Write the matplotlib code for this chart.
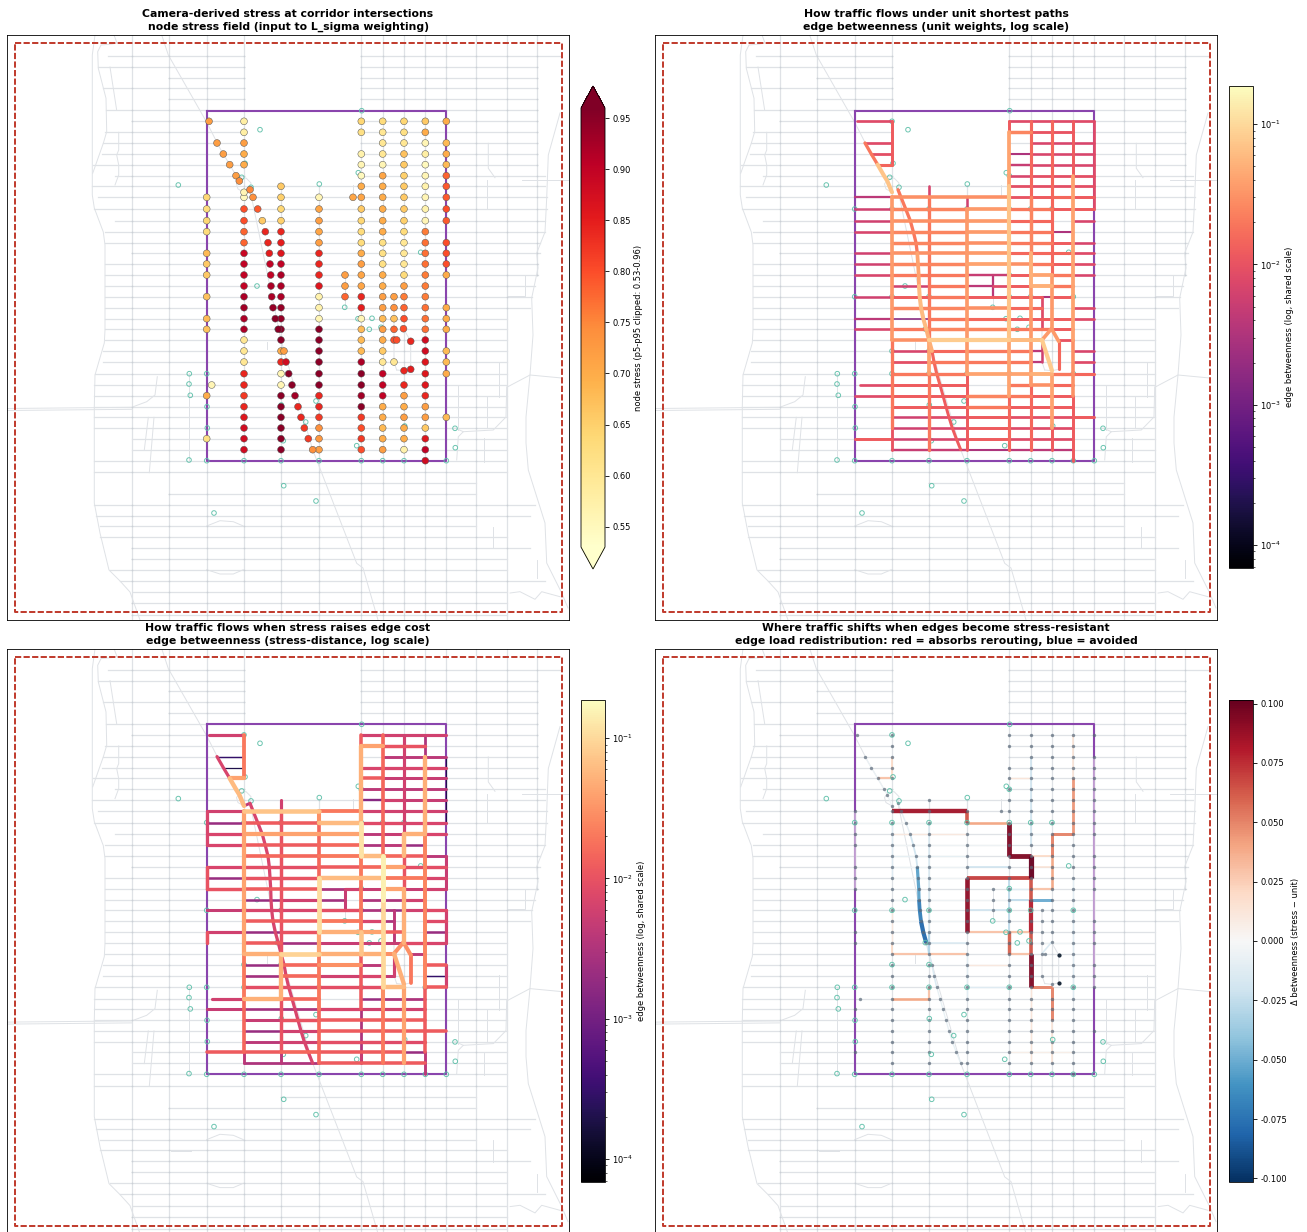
"""
Four-panel corridor map: node stress, unit betweenness, stress betweenness, delta.
Everything is positioned in reference pixel coords of the first panel.
"""
import numpy as np
import matplotlib
matplotlib.use("Agg")
import matplotlib.pyplot as plt
from matplotlib.cm import ScalarMappable
from matplotlib.colors import LogNorm, Normalize

_ = np.nan

# ── Corridor grid ───────────────────────────────────────────────────────────
COL_X = [206.7, 244, 281, 319, 361.3, 382.7, 404, 425.3, 446.3, 345, 394]
ROW_Y = [121.3, 132.3, 143, 154, 164.7, 175.7, 186.3, 197.3, 209, 220.7, 231.7,
         242.7, 253.3, 264, 275, 286, 296.7, 307.7, 318.7, 329.3, 340, 351,
         362, 373.7, 385, 395.7, 406.7, 417.3, 428, 438.7, 449.7, 460.7]
DIAG_X = [209, 217, 223.3, 229.7, 236, 239.3, 244, 250, 253, 257.7, 262.3, 265.3,
          268, 269.3, 270, 270.7, 271, 271.7, 273, 275.3, 278.3, 281, 284, 286,
          288.7, 292, 295, 298, 301, 304.3, 308.3, 312.7]
DIAG_Y = [121.3, 143, 154, 164.7, 175.7, 181, 192.3, 189.7, 197.3, 209, 220.7, 231.7,
          242.7, 253.3, 264, 275, 286, 296.7, 307.7, 318.7, 329.3, 340, 351, 362,
          373.7, 385, 395.7, 406.7, 417.3, 428, 438.7, 449.7]
LOOP_X = [394, 403.5, 410.7, 410.7, 404, 396.7, 394]
LOOP_Y = [340, 328.7, 341.3, 369.3, 370.7, 370, 362]

# ── Background streets: (y, x start, x end) ─────────────────────────────────
BG_ROWS = [(56.3, 108, 560), (67, 98, 537), (77.7, 169, 537), (88.3, 103, 537),
           (99.3, 169, 537), (110.3, 106, 537), (121.3, 131.7, 537), (132.3, 105, 537),
           (143, 103, 537), (154, 102, 537), (164.7, 93, 537), (175.7, 115, 545),
           (186.3, 92, 545), (197.3, 98, 547), (209, 94, 547), (220.7, 115, 545),
           (231.7, 105, 545), (242.7, 105, 540), (253.3, 131.7, 540), (264, 105, 538),
           (275, 105, 538), (286, 105, 535), (296.7, 105, 532), (307.7, 105, 530),
           (318.7, 105, 507), (329.3, 105, 507), (340, 105, 507), (351, 103, 507),
           (362, 103, 507), (373.7, 95, 507), (385, 94, 507), (395.7, 94, 507),
           (406.7, 94, 507), (417.3, 94, 507), (428, 94, 507), (438.7, 132, 507),
           (449.7, 132, 507), (460.7, 94, 507), (472.3, 94, 507), (483.3, 281, 476),
           (494.3, 169, 476), (505, 94, 535), (515.7, 96, 530), (526, 100, 476),
           (536.7, 100, 507), (547.7, 131.7, 530), (558.7, 131.7, 507), (569.7, 110, 507),
           (580.7, 120, 545), (592.3, 133, 507), (603.3, 131.7, 507), (615, 131.7, 507)]
BG_COLS = [(131.7, 35, 620), (169.3, 35, 620), (206.7, 35, 620), (244, 35, 620),
           (281, 186, 620), (319, 186, 620), (361.3, 35, 620), (382.7, 35, 620),
           (404, 35, 620), (425.3, 35, 620), (446.3, 35, 620), (476.3, 35, 620),
           (507.3, 35, 620), (537, 35, 275)]
BG_CURVES = [
    [(95, 35), (92.3, 55), (92.3, 195), (94.3, 208), (103.3, 232), (105, 245), (105, 330),
     (104.3, 343), (95, 375), (94.3, 407), (94.3, 503), (100, 533), (109, 570), (120, 581),
     (130, 592), (140, 620)],
    [(114, 35), (117, 43), (112, 44), (101, 45), (97.7, 51.7), (98.3, 68.3), (106, 98.3),
     (106.7, 131.7), (103.3, 143.3), (92.7, 173.3)],
    [(110, 67), (116.7, 110.3)],
    [(118.7, 132.3), (118.7, 150), (116.7, 155), (118.7, 165), (118.7, 175), (115, 185)],
    [(161.7, 35), (168.3, 55), (206.7, 122.3), (220, 148.3), (239.3, 181)],
    [(250, 189.7), (281, 340), (312.7, 449.7), (356.7, 563.3), (363, 568), (378, 620)],
    [(7, 408.5), (131.7, 407.3), (146.7, 401.7), (155, 395), (157.3, 376.7)],
    [(7, 410.5), (131.7, 409.3)],
    [(148.3, 417.3), (144.3, 450)], [(154, 417.3), (149.3, 472.7)],
    [(189.3, 373), (189.3, 460)], [(171, 537), (190.7, 537)],
    [(560, 113), (548.3, 155), (546.7, 198), (545, 232), (536.7, 253), (538, 268),
     (531.7, 298), (533, 335), (530, 375), (526, 417), (526, 443), (528.3, 470), (545, 523),
     (546.7, 563), (561.7, 593), (568, 608)],
    [(507.3, 387), (530, 375), (561.7, 378)],
    [(506.7, 387), (506, 417), (493.3, 430), (463.3, 431.7), (458.3, 436.7), (456.7, 460)],
    [(463.3, 431.7), (455, 428)],
    [(457.7, 385), (457.7, 430)], [(487.3, 395.7), (487.3, 428)],
    [(499.3, 361.7), (499.3, 396.7)], [(484.3, 438), (484.3, 461.7)],
    [(488.3, 143.3), (488.3, 168.3), (495, 177.7)], [(521.7, 180), (570, 180)],
    [(486.7, 180), (486.7, 209)], [(525, 275), (525, 295.7), (507.3, 295.7)],
    [(525, 275), (538, 275)],
    [(493.3, 526.7), (493.3, 548.3)], [(536.7, 560), (536.7, 578)],
    [(510, 593), (520, 591.7), (535, 599.3), (541.7, 591.7), (560, 596.7)],
    [(206.7, 526), (220, 520.7), (233.3, 521.7), (243.3, 526)],
    [(206.7, 569.7), (220, 574), (233.3, 574), (243.3, 569.7)],
    [(353, 185), (353, 197)], [(345, 275), (345, 307)], [(394, 296.7), (394, 362), (396.7, 370)],
    [(266.7, 341.7), (266.7, 349.3)],
    [(403.5, 328.7), (410.7, 341.3), (410.7, 369.3), (404, 370.7), (396.7, 370)],
    [(244, 192.3), (238, 189), (236.5, 184), (240, 179), (246, 178), (251, 183), (250, 189.7)],
]

# ── Cameras (hollow teal markers) ───────────────────────────────────────────
CAM_X = [361.7, 260, 245, 241.7, 178.3, 251, 319.3, 358.3, 420.7, 257, 344.7, 358, 372,
         369.3, 381, 277.3, 189.3, 206.7, 189, 190.3, 207, 316, 281.3, 305.7, 207.3, 404.7,
         455, 283.3, 356.7, 455.3, 189, 206.7, 244, 281, 319, 361.3, 382.7, 404, 425.3,
         446.3, 283.7, 316, 214, 244, 206.7, 244, 281, 319, 361.3, 382.7, 404, 206.7, 244,
         281, 361.3, 382.7, 425.3, 244, 281, 319, 361.3, 425.3, 361.3, 281, 244, 361.3]
CAM_Y = [110.7, 129.7, 163.3, 177.3, 185, 187.3, 184, 172.7, 252.3, 286, 307.3, 318.7,
         318.3, 329.3, 327.3, 329, 373.7, 373.7, 384, 395.3, 406.7, 401, 405, 422, 428, 426,
         428.3, 440.7, 445.7, 447.7, 460, 460.7, 460.7, 460.7, 460.7, 460.7, 460.7, 460.7,
         460.7, 460.7, 485.7, 501, 513, 121.3, 209, 209, 209, 209, 209, 209, 209, 296.7,
         296.7, 296.7, 296.7, 296.7, 296.7, 373.7, 373.7, 373.7, 373.7, 373.7, 275, 351,
         351, 175.7]

# ── Panel 1: node stress, one row per ROW_Y, columns COL_X[0:9] ─────────────
STRESS = [
    [_, .58, _, _, .64, .63, .64, .66, .70],
    [_, .58, _, _, .62, .60, .62, .70, _],
    [_, .72, _, _, _, .60, .60, .56, .68],
    [_, .70, _, _, .57, .60, .67, .58, .70],
    [_, .70, _, _, .56, .56, .66, .55, .68],
    [_, _, _, _, .55, .71, .65, .56, .78],
    [_, _, .66, _, .70, .70, .66, .57, .79],
    [.64, .55, .65, .56, .71, .70, .66, .56, .79],
    [.63, .80, .64, .71, .66, .70, .66, .57, .80],
    [.64, .80, .65, .72, .64, .70, .65, .56, .79],
    [.63, .78, .84, .71, .63, .70, .63, .76, _],
    [_, .78, .85, .72, .63, .62, .60, .77, .80],
    [.68, .89, .86, .84, .70, .62, .60, .77, .80],
    [.66, .90, .90, .84, .72, .62, .60, .77, .80],
    [.66, .90, .92, .84, .71, .70, .63, .76, .70],
    [_, .90, .92, .86, .71, .70, .72, .76, _],
    [.67, .92, .92, .57, .84, .72, .76, .76, _],
    [_, .93, .94, .57, .85, .72, .78, .77, .70],
    [.68, .92, .94, .56, .56, .68, .80, .77, .70],
    [.67, .92, .95, .95, .68, .72, _, .77, .70],
    [_, .60, .95, .95, .68, .70, _, .88, _],
    [_, .60, .70, .95, .68, .66, _, .88, .68],
    [_, .60, .84, .95, .92, .60, _, .86, .68],
    [_, .84, .56, .95, .95, .90, _, .86, .70],
    [_, .84, .56, .95, .95, .90, .84, .86, _],
    [.70, .82, .95, .84, .93, .90, .72, .84, _],
    [_, .84, .95, .84, .95, .70, .70, .72, _],
    [_, .86, .95, .82, .82, .70, .72, .72, .68],
    [_, .88, .95, .74, .80, .68, .70, .66, _],
    [.62, .88, .95, .73, .82, .70, .70, .86, _],
    [_, .88, .95, .72, .80, .72, .57, .90, _],
    [_, _, _, _, _, _, _, .88, _],
]
STRESS_DIAG = [.72, .72, .72, .72, .72, .74, .56, .75, .74, .79, .66, .84, .84, .85, .90, .90,
               .92, .92, .94, .95, .95, _, .72, .88, .95, .95, .93, .84, .84, .82, .82, .74]
EXTRA_X = [353, 345, 345, 345, 394, 394, 394, 394, 403.5, 394, 396.7, 410.7, 394, 404, 410.7, 211.7]
EXTRA_Y = [197.3, 275, 286, 296.7, 296.7, 307.7, 318.7, 329.3, 328.7, 340, 340, 341.3, 362,
           370.7, 369.3, 385]
EXTRA_S = [.71, .72, .72, .78, .72, .74, .67, .78, .80, .80, .80, .84, .60, .84, .85, .56]

# ── Edge tables: H = (row, col or x, col or x, value), V = (col, row, row, value),
#    DIAG = (first index, last index, value), LOOP = (loop index, loop index, value)
P2_H = [(0, 209.0, 1, .008), (0, 4, 8, .008),
        (1, 4, 5, .025), (1, 5, 7, .010),
        (2, 217.0, 1, .008), (2, 5, 8, .007),
        (3, 223.3, 1, .009), (3, 4, 5, .003), (3, 5, 8, .007),
        (4, 229.7, 1, .014), (4, 4, 5, .005), (4, 5, 8, .007),
        (5, 4, 5, .007), (5, 5, 8, .009),
        (6, 4, 8, .009),
        (7, 0, 1, .004), (7, 1, 4, .030), (7, 4, 5, .010), (7, 5, 6, .012), (7, 6, 7, .015), (7, 7, 8, .012),
        (8, 0, 1, .006), (8, 1, 3, .025), (8, 3, 4, .035), (8, 4, 6, .020), (8, 6, 8, .012),
        (9, 0, 1, .006), (9, 1, 3, .030), (9, 3, 4, .035), (9, 4, 6, .015), (9, 7, 8, .007),
        (10, 0, 1, .007), (10, 1, 3, .025), (10, 3, 4, .035), (10, 4, 6, .020), (10, 6, 7, .003),
        (11, 1, 3, .025), (11, 3, 4, .030), (11, 4, 6, .020), (11, 6, 7, .012), (11, 7, 8, .007),
        (12, 0, 1, .006), (12, 1, 3, .030), (12, 3, 4, .035), (12, 4, 6, .015), (12, 6, 7, .014), (12, 7, 8, .008),
        (13, 0, 1, .006), (13, 1, 3, .025), (13, 3, 4, .040), (13, 4, 5, .030), (13, 5, 6, .020), (13, 6, 7, .012), (13, 7, 8, .008),
        (14, 0, 1, .007), (14, 1, 3, .020), (14, 3, 4, .005), (14, 4, 5, .012), (14, 5, 6, .040), (14, 6, 7, .020), (14, 7, 8, .007),
        (15, 1, 2, .006), (15, 2, 3, .020), (15, 3, 9, .004), (15, 9, 4, .008), (15, 4, 5, .012), (15, 5, 6, .050), (15, 6, 7, .020),
        (16, 0, 1, .006), (16, 1, 2, .012), (16, 2, 3, .020), (16, 3, 4, .012), (16, 4, 5, .012), (16, 5, 10, .012), (16, 10, 6, .003), (16, 6, 7, .012),
        (17, 1, 3, .025), (17, 3, 4, .030), (17, 4, 5, .015), (17, 5, 10, .015), (17, 7, 8, .008),
        (18, 0, 1, .004), (18, 1, 2, .0015), (18, 2, 3, .020), (18, 3, 4, .015), (18, 4, 7, .012), (18, 7, 8, .008),
        (19, 0, 1, .007), (19, 1, 2, .020), (19, 2, 4, .025), (19, 4, 6, .020), (19, 6, 7, .012),
        (20, 1, 2, .030), (20, 2, 4, .080), (20, 4, 10, .060), (20, 410.7, 7, .010),
        (21, 1, 2, .007), (21, 2, 3, .015), (21, 3, 5, .020), (21, 5, 10, .004), (21, 7, 8, .007),
        (22, 1, 2, .009), (22, 2, 5, .020), (22, 5, 10, .004), (22, 7, 8, .008),
        (23, 1, 3, .020), (23, 3, 5, .040), (23, 5, 6, .050), (23, 6, 7, .020), (23, 7, 8, .015),
        (24, 211.7, 1, .008), (24, 1, 3, .012), (24, 4, 5, .020), (24, 5, 6, .030), (24, 6, 7, .015),
        (25, 0, 1, .008), (25, 1, 3, .012), (25, 3, 4, .025), (25, 4, 5, .020), (25, 5, 7, .012),
        (26, 1, 3, .012), (26, 3, 4, .020), (26, 4, 7, .012),
        (27, 1, 2, .006), (27, 2, 3, .008), (27, 3, 4, .012), (27, 4, 7, .009), (27, 7, 8, .012),
        (28, 1, 2, .006), (28, 2, 3, .007), (28, 3, 4, .012), (28, 4, 7, .008),
        (29, 0, 1, .012), (29, 1, 2, .006), (29, 2, 3, .007), (29, 3, 4, .012), (29, 4, 7, .008),
        (30, 1, 3, .005), (30, 3, 4, .003), (30, 4, 7, .004)]
P2_V = [(1, 0, 4, .012), (1, 7, 20, .035), (1, 20, 28, .020), (1, 28, 30, .010),
        (2, 6, 7, .007), (2, 7, 20, .020), (2, 20, 23, .040), (2, 23, 30, .020),
        (3, 7, 8, .006), (3, 8, 23, .035), (3, 23, 30, .012),
        (4, 0, 1, .012), (4, 1, 6, .040), (4, 6, 20, .070), (4, 20, 25, .040), (4, 25, 30, .015),
        (5, 0, 7, .015), (5, 7, 12, .025), (5, 12, 15, .050), (5, 15, 24, .035), (5, 24, 30, .015),
        (6, 0, 14, .015), (6, 14, 19, .035), (6, 23, 28, .040), (6, 28, 30, .012),
        (7, 0, 5, .012), (7, 5, 20, .040), (7, 20, 25, .030), (7, 25, 31, .012),
        (8, 0, 8, .008), (9, 14, 16, .004), (10, 16, 19, .008), (10, 20, 22, .006)]
P2_DIAG = [(1, 3, .020), (3, 6, .070), (7, 13, .020), (13, 16, .040), (16, 20, .060), (20, 22, .050),
           (22, 25, .015), (25, 31, .012)]
P2_LOOP = [(0, 1, .035), (1, 2, .035), (2, 3, .015), (0, 4, .080)]

P3_H = [(0, 209.0, 1, .006), (0, 4, 8, .006),
        (1, 4, 5, .040), (1, 5, 7, .010),
        (2, 217.0, 1, .0003), (2, 5, 8, .004),
        (3, 223.3, 1, .0002), (3, 4, 8, .007),
        (4, 229.7, 1, .040), (4, 4, 5, .012), (4, 5, 8, .005),
        (5, 4, 8, .004),
        (6, 4, 5, .0015), (6, 5, 6, .006), (6, 6, 8, .005),
        (7, 0, 1, .006), (7, 1, 3, .070), (7, 3, 4, .020), (7, 4, 8, .006),
        (8, 0, 1, .002), (8, 1, 3, .012), (8, 3, 4, .060), (8, 4, 6, .008), (8, 6, 8, .007),
        (9, 0, 1, .007), (9, 1, 4, .040), (9, 4, 5, .004), (9, 5, 6, .005), (9, 6, 7, .050), (9, 7, 8, .007),
        (10, 0, 1, .007), (10, 1, 3, .012), (10, 3, 4, .015), (10, 4, 5, .003), (10, 5, 6, .004), (10, 6, 7, .002),
        (11, 1, 3, .015), (11, 3, 4, .020), (11, 4, 5, .060), (11, 5, 6, .015), (11, 6, 7, .012), (11, 7, 8, .004),
        (12, 0, 1, .007), (12, 1, 3, .009), (12, 3, 4, .012), (12, 4, 5, .015), (12, 5, 6, .040), (12, 6, 8, .009),
        (13, 0, 1, .002), (13, 1, 3, .010), (13, 3, 5, .060), (13, 5, 7, .020), (13, 7, 8, .007),
        (14, 0, 1, .010), (14, 1, 3, .012), (14, 3, 9, .003), (14, 9, 4, .006), (14, 4, 5, .005), (14, 5, 6, .040), (14, 6, 7, .005), (14, 7, 8, .006),
        (15, 1, 2, .002), (15, 2, 3, .006), (15, 3, 9, .0025), (15, 4, 6, .003), (15, 6, 7, .006),
        (16, 0, 1, .005), (16, 1, 3, .007), (16, 3, 4, .009), (16, 4, 10, .003), (16, 10, 6, .002), (16, 6, 7, .006), (16, 7, 8, .008),
        (17, 1, 3, .012), (17, 3, 4, .020), (17, 4, 5, .007), (17, 5, 10, .003), (17, 7, 8, .008),
        (18, 0, 1, .006), (18, 1, 2, .002), (18, 2, 3, .010), (18, 3, 4, .050), (18, 4, 5, .040), (18, 5, 6, .012), (18, 7, 8, .002),
        (19, 1, 2, .012), (19, 2, 3, .0025), (19, 3, 6, .005), (19, 6, 7, .008), (19, 7, 8, .007),
        (20, 1, 2, .050), (20, 2, 3, .090), (20, 3, 5, .050), (20, 5, 10, .030), (20, 410.7, 7, .004),
        (21, 1, 2, .002), (21, 2, 3, .015), (21, 3, 4, .030), (21, 4, 5, .004), (21, 7, 8, .012),
        (22, 1, 2, .0025), (22, 2, 3, .015), (22, 3, 4, .006), (22, 4, 5, .007), (22, 5, 10, .005), (22, 7, 8, .0003),
        (23, 1, 5, .009), (23, 5, 6, .060), (23, 7, 8, .012),
        (24, 211.7, 1, .006), (24, 1, 2, .050), (24, 2, 3, .015), (24, 4, 5, .002), (24, 5, 7, .003),
        (25, 0, 1, .005), (25, 1, 2, .0025), (25, 2, 3, .003), (25, 3, 4, .007), (25, 4, 7, .006),
        (26, 1, 2, .005), (26, 2, 3, .010), (26, 3, 7, .012),
        (27, 1, 2, .002), (27, 2, 3, .006), (27, 3, 8, .012),
        (28, 1, 2, .004), (28, 2, 3, .006), (28, 3, 5, .009), (28, 5, 7, .008),
        (29, 0, 2, .012), (29, 2, 3, .015), (29, 3, 6, .012), (29, 6, 7, .002),
        (30, 1, 3, .003), (30, 3, 7, .012)]
P3_V = [(0, 7, 10, .007), (0, 12, 14, .010), (0, 18, 19, .010),
        (1, 0, 4, .020), (1, 7, 20, .040), (1, 20, 24, .020), (1, 24, 29, .015), (1, 29, 30, .004),
        (2, 6, 7, .006), (2, 7, 20, .010), (2, 20, 24, .050), (2, 24, 29, .010), (2, 29, 30, .004),
        (3, 7, 8, .030), (3, 8, 13, .015), (3, 13, 18, .110), (3, 18, 20, .040), (3, 20, 25, .020), (3, 25, 30, .015),
        (4, 0, 1, .012), (4, 1, 8, .050), (4, 8, 11, .120), (4, 11, 18, .020), (4, 18, 20, .070), (4, 20, 25, .012), (4, 25, 29, .003), (4, 29, 30, .005),
        (5, 0, 11, .015), (5, 11, 15, .150), (5, 15, 23, .100), (5, 23, 25, .030), (5, 25, 30, .020),
        (6, 0, 9, .006), (6, 9, 11, .060), (6, 11, 14, .010), (6, 14, 19, .050), (6, 23, 30, .040),
        (7, 0, 2, .003), (7, 2, 9, .050), (7, 9, 23, .025), (7, 23, 29, .012), (7, 29, 31, .004),
        (8, 2, 8, .0002), (8, 11, 14, .005), (8, 16, 19, .006), (8, 21, 23, .006),
        (9, 14, 16, .005), (10, 16, 19, .004), (10, 20, 22, .006)]
P3_DIAG = [(1, 3, .007), (3, 6, .060), (6, 7, .004), (7, 31, .007)]
P3_LOOP = [(0, 1, .030), (1, 2, .030), (2, 3, .020), (0, 4, .050)]

P4_H = [(7, 1, 3, .085), (8, 3, 4, .040), (11, 4, 5, .095), (13, 3, 5, .070), (18, 3, 5, .030),
        (20, 4, 5, .030), (23, 5, 6, .050), (9, 6, 7, .050), (11, 5, 6, .020), (12, 5, 6, .015),
        (14, 5, 6, .030), (15, 5, 6, -.050), (15, 4, 5, -.025), (4, 229.7, 1, .030), (4, 4, 5, .012),
        (20, 1, 3, .030), (24, 1, 2, .040), (8, 0, 3, -.004), (9, 1, 3, .010), (11, 1, 3, -.008),
        (12, 3, 4, -.020), (14, 4, 5, -.012), (16, 3, 4, -.020), (19, 2, 3, -.015), (23, 3, 4, -.012),
        (21, 3, 4, .010), (10, 1, 4, -.004), (13, 1, 3, -.004), (17, 1, 3, -.004), (25, 1, 4, -.004),
        (27, 1, 4, -.003), (12, 1, 3, -.005), (15, 1, 4, -.004), (26, 5, 7, -.003), (9, 4, 6, -.006),
        (29, 4, 7, .006), (19, 4, 7, -.004)]
P4_V = [(3, 7, 8, .065), (4, 8, 11, .095), (5, 11, 13, .105), (3, 13, 18, .090), (4, 18, 20, .060),
        (5, 13, 15, .065), (5, 15, 18, .080), (5, 18, 20, .065), (5, 20, 23, .095),
        (6, 23, 26, .050), (6, 26, 30, .015), (6, 9, 11, .050), (6, 11, 14, .040),
        (7, 4, 9, .045), (7, 0, 4, .015), (1, 2, 4, .020), (1, 16, 19, .010), (1, 19, 20, .020),
        (2, 23, 24, .030), (2, 8, 20, -.015), (2, 18, 20, -.030), (4, 13, 18, -.025), (5, 2, 10, -.020),
        (1, 8, 13, -.012), (7, 13, 16, -.010), (7, 16, 24, -.012), (3, 20, 24, -.010), (5, 23, 30, .012),
        (0, 7, 14, 0.0), (8, 2, 23, 0.0)]
P4_DIAG = [(1, 6, -.006), (7, 10, -.010), (10, 13, -.020), (13, 16, -.055), (16, 18, -.070),
           (18, 20, -.080), (20, 24, -.015), (24, 31, -.008)]
P4_LOOP = [(0, 1, -.015)]

STRESS_TICKS = [.55, .60, .65, .70, .75, .80, .85, .90, .95]
DELTA_TICKS = [-.1, -.075, -.05, -.025, 0, .025, .05, .075, .1]
TITLES = ["Camera-derived stress at corridor intersections\nnode stress field (input to L_sigma weighting)",
          "How traffic flows under unit shortest paths\nedge betweenness (unit weights, log scale)",
          "How traffic flows when stress raises edge cost\nedge betweenness (stress-distance, log scale)",
          "Where traffic shifts when edges become stress-resistant\nedge load redistribution: red = absorbs rerouting, blue = avoided"]

FW, FH = 1307, 1232
STREET = "#dfe2e6"
RED = "#c0392b"
PURPLE = "#8a45ad"
TEAL = "#5cbfa8"
BN_NORM = LogNorm(6.86e-5, 0.187)
STRESS_NORM = Normalize(0.53, 0.96)
DELTA_NORM = Normalize(-0.1015, 0.1015)


def px_axes(fig, x0, y0, x1, y1):
    return fig.add_axes([x0 / FW, 1 - y1 / FH, (x1 - x0) / FW, (y1 - y0) / FH])


def cx(c):
    return COL_X[c] if isinstance(c, int) else c


def base_map(ax, title):
    for y, x0, x1 in BG_ROWS:
        if y < 180:
            ax.plot([x0, 244], [y, y], color=STREET, lw=0.9, zorder=1)
            ax.plot([361.3, x1], [y, y], color=STREET, lw=0.9, zorder=1)
        else:
            ax.plot([x0, x1], [y, y], color=STREET, lw=0.9, zorder=1)
    for x, y0, y1 in BG_COLS:
        ax.plot([x, x], [y0, y1], color=STREET, lw=0.9, zorder=1)
    for pts in BG_CURVES:
        xs, ys = zip(*pts)
        ax.plot(xs, ys, color=STREET, lw=0.7, zorder=1)
    # small junction ticks along the streets
    jx, jy = [], []
    for x, y0, y1 in BG_COLS:
        for y, x0, x1 in BG_ROWS:
            if x0 <= x <= x1 and y0 <= y <= y1 and not (y < 180 and 244 < x < 361):
                jx.append(x)
                jy.append(y)
    ax.scatter(jx, jy, s=1.6, color="#cbd0d6", linewidths=0, zorder=1)

    ax.plot([15, 561.5, 561.5, 15, 15], [43, 43, 612, 612, 43], color=RED, lw=1.4,
            dashes=(3.2, 1.2), zorder=2)
    ax.plot([206.7, 446.3, 446.3, 206.7, 206.7], [110.7, 110.7, 460.7, 460.7, 110.7],
            color=PURPLE, lw=1.5, zorder=3)
    ax.set_xlim(7, 569)
    ax.set_ylim(620, 35)
    ax.set_xticks([])
    ax.set_yticks([])
    for s in ax.spines.values():
        s.set_linewidth(0.6)
    ax.set_title(title, fontsize=7.8, fontweight="bold", pad=3.5, linespacing=1.4)


def collect_edges(h, v, diag, loop):
    segs = []
    for r, a, b, val in h:
        segs.append(([cx(a), cx(b)], [ROW_Y[r], ROW_Y[r]], val))
    for c, r0, r1, val in v:
        segs.append(([COL_X[c], COL_X[c]], [ROW_Y[r0], ROW_Y[r1]], val))
    for i0, i1, val in diag:
        segs.append((DIAG_X[i0:i1 + 1], DIAG_Y[i0:i1 + 1], val))
    for i0, i1, val in loop:
        segs.append(([LOOP_X[i0], LOOP_X[i1]], [LOOP_Y[i0], LOOP_Y[i1]], val))
    return segs


def draw_betweenness(ax, h, v, diag, loop, base, slope):
    cmap = plt.get_cmap("magma")
    for xs, ys, val in sorted(collect_edges(h, v, diag, loop), key=lambda s: s[2]):
        w = np.clip(base + slope * np.log10(val / 0.008), 0.8, 5.0) * 0.72
        ax.plot(xs, ys, color=cmap(BN_NORM(val)), lw=w, solid_capstyle="round", zorder=4)


def draw_cams(ax):
    ax.scatter(CAM_X, CAM_Y, s=11, facecolors="none", edgecolors=TEAL, linewidths=0.7,
               alpha=0.9, zorder=3.5)


def all_nodes():
    xs, ys, vals = [], [], []
    for r, row in enumerate(STRESS):
        for c, s in enumerate(row):
            if not np.isnan(s):
                xs.append(COL_X[c])
                ys.append(ROW_Y[r])
                vals.append(s)
    for x, y, s in zip(DIAG_X, DIAG_Y, STRESS_DIAG):
        if not np.isnan(s):
            xs.append(x)
            ys.append(y)
            vals.append(s)
    xs += EXTRA_X
    ys += EXTRA_Y
    vals += EXTRA_S
    return xs, ys, vals


def style_cbar(cb, label):
    cb.set_label(label, fontsize=6, labelpad=2.5)
    cb.ax.tick_params(labelsize=6, length=2.8, width=0.6, pad=2.5)
    cb.ax.tick_params(which="minor", length=1.6, width=0.45)
    cb.outline.set_linewidth(0.6)


fig = plt.figure(figsize=(FW / 100, FH / 100), dpi=100)
ax1 = px_axes(fig, 7, 35, 569, 620)
ax2 = px_axes(fig, 655, 35, 1217, 620)
ax3 = px_axes(fig, 7, 648.6, 569, 1233.6)
ax4 = px_axes(fig, 655, 648.6, 1217, 1233.6)
for ax, title in zip([ax1, ax2, ax3, ax4], TITLES):
    base_map(ax, title)

# (a) stress nodes
nx, ny, nv = all_nodes()
draw_cams(ax1)
ax1.scatter(nx, ny, c=nv, cmap="YlOrRd", norm=STRESS_NORM, s=24, edgecolors="#555555",
            linewidths=0.35, zorder=6)

# (b), (c) betweenness
draw_betweenness(ax2, P2_H, P2_V, P2_DIAG, P2_LOOP, 2.7, 1.5)
draw_cams(ax2)
draw_betweenness(ax3, P3_H, P3_V, P3_DIAG, P3_LOOP, 3.3, 1.3)
draw_cams(ax3)

# (d) delta
dmap = plt.get_cmap("RdBu_r")
for xs, ys, val in sorted(collect_edges(P4_H, P4_V, P4_DIAG, P4_LOOP), key=lambda s: abs(s[2])):
    ax4.plot(xs, ys, color=dmap(DELTA_NORM(val)), lw=2 if val == 0 else (1.0 + 40 * abs(val)) * 0.72,
             alpha=0.55 if val == 0 else 0.95, solid_capstyle="butt", zorder=4)
ax4.scatter(nx, ny, s=6, color="#5a6878", alpha=0.7, linewidths=0, zorder=5)
ax4.scatter([410.7, 410.7], [341.3, 369.3], s=9, color="#1f2d3d", linewidths=0, zorder=5)
ax4.scatter(CAM_X, CAM_Y, s=11, facecolors="none", edgecolors=TEAL, linewidths=0.7,
            alpha=0.9, zorder=5.5)

# colorbars
cax1 = px_axes(fig, 581, 86, 605, 569)
cb = fig.colorbar(ScalarMappable(STRESS_NORM, "YlOrRd"), cax=cax1, extend="both", ticks=STRESS_TICKS)
style_cbar(cb, "node stress (p5-p95 clipped: 0.53-0.96)")

for (x0, y0, x1, y1) in [(1229, 86, 1253, 568), (581, 700, 605, 1182)]:
    cax = px_axes(fig, x0, y0, x1, y1)
    cb = fig.colorbar(ScalarMappable(BN_NORM, "magma"), cax=cax)
    style_cbar(cb, "edge betweenness (log, shared scale)")

cax4 = px_axes(fig, 1229, 700, 1253, 1182)
cb = fig.colorbar(ScalarMappable(DELTA_NORM, "RdBu_r"), cax=cax4, ticks=DELTA_TICKS, format="%.3f")
style_cbar(cb, "Δ betweenness (stress − unit)")

fig.savefig("out.png", dpi=100)
